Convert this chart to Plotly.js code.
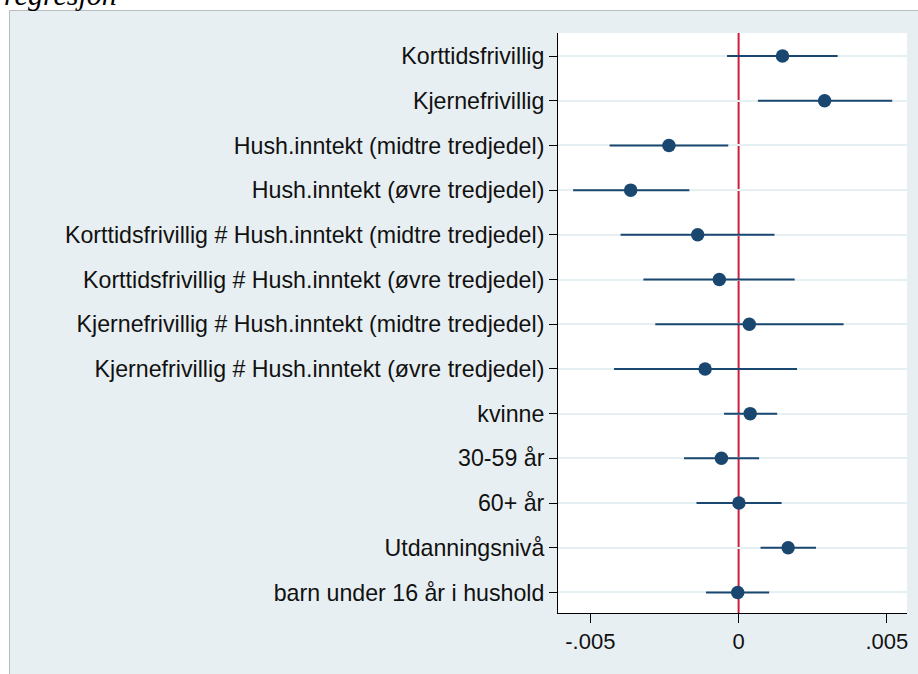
<!DOCTYPE html>
<html>
<head>
<meta charset="utf-8">
<script src="https://cdn.plot.ly/plotly-3.0.1.min.js"></script>
<style>html,body{margin:0;padding:0;background:#fff;}#chart{width:918px;height:674px;}</style>
</head>
<body>
<div id="chart"></div>
<script>
const categories = [
  "Korttidsfrivillig",
  "Kjernefrivillig",
  "Hush.inntekt (midtre tredjedel)",
  "Hush.inntekt (øvre tredjedel)",
  "Korttidsfrivillig # Hush.inntekt (midtre tredjedel)",
  "Korttidsfrivillig # Hush.inntekt (øvre tredjedel)",
  "Kjernefrivillig # Hush.inntekt (midtre tredjedel)",
  "Kjernefrivillig # Hush.inntekt (øvre tredjedel)",
  "kvinne",
  "30-59 år",
  "60+ år",
  "Utdanningsnivå",
  "barn under 16 år i hushold"
];
const estimates = [0.00148, 0.00290, -0.00235, -0.00364, -0.00138, -0.00065, 0.00036, -0.00113, 0.00039, -0.00058, 0.00001, 0.00167, -0.00003];
const ciLow =     [-0.00039, 0.00065, -0.00435, -0.00558, -0.00398, -0.00321, -0.00281, -0.00420, -0.00049, -0.00184, -0.00142, 0.00074, -0.00110];
const ciHigh =    [0.00334, 0.00518, -0.00035, -0.00166, 0.00121, 0.00189, 0.00354, 0.00197, 0.00130, 0.00069, 0.00145, 0.00261, 0.00103];
const xTickVals = [-0.005, 0, 0.005];
const xTickText = ["-.005", "0", ".005"];
const refLine = 0;

const navy = "#1a476f";
const trace = {
  type: "scatter",
  mode: "markers",
  x: estimates,
  y: categories,
  marker: {color: navy, size: 13.5},
  error_x: {
    type: "data",
    symmetric: false,
    array: estimates.map((e, i) => ciHigh[i] - e),
    arrayminus: estimates.map((e, i) => e - ciLow[i]),
    color: navy,
    thickness: 2,
    width: 0
  },
  hoverinfo: "x+y",
  showlegend: false
};

// plot area in pixels
const L = 558, R = 907, T = 33, B = 613;
const pw = R - L, ph = B - T;
const px = v => (v - L) / pw;
const py = v => (B - v) / ph;

const layout = {
  width: 918, height: 674,
  margin: {l: L, r: 918 - R, t: T, b: 674 - B, pad: 0},
  paper_bgcolor: "#ffffff",
  plot_bgcolor: "rgba(0,0,0,0)",
  font: {family: "Liberation Sans, Arial, sans-serif", size: 22, color: "#000"},
  xaxis: {
    range: [-0.00609, 0.005678],
    tickvals: xTickVals, ticktext: xTickText,
    ticks: "outside", ticklen: 9, tickwidth: 1, tickcolor: "#000",
    showline: true, linecolor: "#000", linewidth: 1,
    showgrid: false, zeroline: false,
    tickfont: {size: 22, color: "#111"}
  },
  yaxis: {
    type: "category",
    categoryorder: "array", categoryarray: categories,
    range: [12.46, -0.515],
    ticks: "outside", ticklen: 8, tickwidth: 1, tickcolor: "#000",
    showline: true, linecolor: "#000", linewidth: 1,
    showgrid: true, gridcolor: "#e6eff1", gridwidth: 2,
    zeroline: false,
    tickfont: {size: 23.2, color: "#111"}
  },
  shapes: [
    {type: "rect", xref: "paper", yref: "paper", layer: "below",
     x0: px(9.5), x1: px(925), y0: py(680), y1: py(10.5),
     fillcolor: "#e8eff2", line: {color: "#b8bcbf", width: 1}},
    {type: "rect", xref: "paper", yref: "paper", layer: "below",
     x0: 0, x1: 1, y0: 0, y1: 1,
     fillcolor: "#ffffff", line: {width: 0}},
    {type: "line", xref: "x", yref: "paper", layer: "below",
     x0: refLine, x1: refLine, y0: 0, y1: 1,
     line: {color: "#d01c3c", width: 2}}
  ],
  annotations: [
    {text: "<i>regresjon</i>", xref: "paper", yref: "paper",
     x: px(2), y: py(13), xanchor: "left", yanchor: "bottom",
     showarrow: false,
     font: {family: "Liberation Serif, Times New Roman, serif", size: 30, color: "#000"}}
  ]
};

Plotly.newPlot("chart", [trace], layout, {displayModeBar: false, staticPlot: true});
</script>
</body>
</html>
